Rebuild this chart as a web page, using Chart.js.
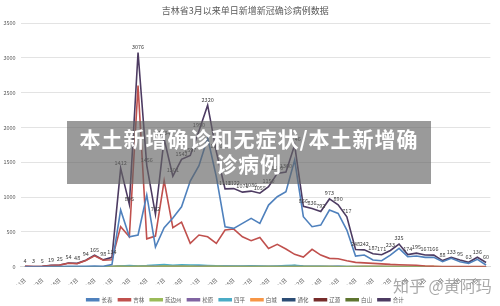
<!DOCTYPE html>
<html><head><meta charset="utf-8">
<script src="https://cdn.jsdelivr.net/npm/chart.js@4"></script>
<style>
html,body{margin:0;padding:0;background:#fff;}
#wrap{position:relative;width:500px;height:306px;overflow:hidden;background:#fff;}
#c{display:block;}
#banner{position:absolute;left:67px;top:121px;width:364px;height:63px;background:rgba(100,100,100,0.65);color:#fff;font:bold 21px "Noto Sans CJK SC";letter-spacing:1px;text-align:center;line-height:25px;padding-top:5px;box-sizing:border-box;white-space:nowrap;}
#wm{position:absolute;left:393px;top:273px;font:16px "Noto Sans CJK SC";color:rgba(140,140,140,0.75);white-space:nowrap;}
</style></head><body>
<div id="wrap"><canvas id="c" width="500" height="306"></canvas>
<div id="banner">本土新增确诊和无症状/本土新增确<br>诊病例</div>
<div id="wm">知乎 @黄阿玛</div></div>
<script>
const titleText = '吉林省3月以来单日新增新冠确诊病例数据';
const categories = [];
for (let d = 1; d <= 31; d++) categories.push('3月' + d + '日');
for (let d = 1; d <= 23; d++) categories.push('4月' + d + '日');
const yTicks = [0, 500, 1000, 1500, 2000, 2500, 3000, 3500];

const changchun = [0,0,0,1,2,5,5,5,10,5,30,815,430,455,1030,283,560,700,861,1230,1450,1850,1290,574,550,622,694,622,885,1005,1077,1531,718,574,598,813,765,526,153,167,96,86,167,263,144,153,134,134,72,120,72,48,105,24];
const jilin = [4,3,5,18,23,49,43,89,155,93,100,575,430,2601,400,440,1234,560,640,335,455,430,335,526,541,430,373,421,263,321,254,177,139,249,167,120,114,86,62,55,48,40,33,29,24,20,10,5,3,2,2,1,1,1];
const yanbian = [0,0,0,0,0,0,0,0,0,0,2,5,3,5,4,3,8,6,5,4,3,5,4,3,2,3,2,2,1,2,1,2,1,1,1,1,0,0,0,0,0,0,0,0,0,0,0,0,0,0,0,0,0,0];
const songyuan = [0,0,0,0,0,0,0,0,0,0,1,2,2,3,5,4,6,5,4,3,4,5,3,2,2,2,3,3,2,2,2,3,2,1,1,1,1,0,0,0,0,0,0,0,0,0,0,0,0,0,0,0,0,0];
const siping = [0,0,0,0,0,0,0,0,0,0,0,10,18,10,15,25,30,20,28,25,22,18,12,10,8,10,12,8,6,10,15,20,8,5,4,3,5,3,2,2,2,3,1,1,1,0,0,0,0,0,0,0,0,0];
const baicheng = [0,0,0,0,0,0,0,0,0,0,0,1,1,2,1,0,2,1,1,0,1,1,0,0,1,0,1,0,0,0,1,0,0,0,0,0,0,0,2,4,6,5,4,6,5,3,2,1,0,0,0,0,0,0];
const tonghua = [0,0,0,0,0,0,0,0,0,0,0,1,1,0,1,0,1,0,0,1,0,1,0,1,0,0,0,0,0,0,0,0,0,0,0,0,0,0,0,0,0,0,0,0,0,0,0,0,0,0,0,0,0,0];
const liaoyuan = [0,0,0,0,0,0,0,0,0,0,0,0,1,0,0,0,1,0,0,0,0,0,0,0,0,0,0,0,0,0,0,0,0,0,0,0,0,0,0,0,0,0,0,0,0,0,0,0,0,0,0,0,0,0];
const baishan = [0,0,0,0,0,0,0,0,0,0,1,4,3,2,1,0,2,4,5,3,5,5,6,3,2,1,2,1,3,2,5,15,3,2,2,2,3,2,1,1,1,1,0,0,0,1,1,1,0,0,0,0,0,0];
const total = [4,3,5,19,25,54,48,94,165,98,134,1412,895,3076,1456,752,1834,1301,1542,1597,1950,2320,1650,1118,1122,1071,1086,1055,1150,1340,1360,1746,866,836,792,973,890,717,248,242,187,171,233,325,174,195,167,166,88,133,95,63,136,60];

const seriesNames = ['长春','吉林','延边州','松原','四平','白城','通化','辽源','白山','合计'];
const seriesData = [changchun, jilin, yanbian, songyuan, siping, baicheng, tonghua, liaoyuan, baishan, total];
const seriesColors = ['#4F81BD','#C0504D','#9BBB59','#8064A2','#4BACC6','#F79646','#2C4D75','#772C2A','#5F7530','#4D3B62'];

Chart.defaults.font.family = '"Noto Sans CJK SC", "Noto Sans", sans-serif';

const datasets = seriesNames.map((n, i) => ({
  label: n,
  data: seriesData[i],
  borderColor: seriesColors[i],
  backgroundColor: seriesColors[i],
  borderWidth: 1.6,
  pointRadius: 0,
  tension: 0,
  fill: false
}));

const totalLabels = {
  id: 'totalLabels',
  afterDatasetsDraw(chart) {
    const meta = chart.getDatasetMeta(chart.data.datasets.length - 1);
    const ctx = chart.ctx;
    ctx.save();
    ctx.font = '5.5px "Noto Sans CJK SC"';
    ctx.fillStyle = '#404040';
    ctx.textAlign = 'center';
    ctx.textBaseline = 'bottom';
    meta.data.forEach((pt, i) => ctx.fillText(String(total[i]), pt.x, pt.y - 3));
    ctx.restore();
  }
};
const shiftLegend = {
  id: 'shiftLegend',
  afterLayout(chart) { const l = chart.legend; l.top += 6.5; l.bottom += 6.5; }
};

new Chart(document.getElementById('c'), {
  type: 'line',
  data: { labels: categories, datasets },
  plugins: [totalLabels, shiftLegend],
  options: {
    responsive: false, animation: false, devicePixelRatio: 1,
    layout: { padding: { left: 0, right: 9.6, top: 0, bottom: 0 } },
    plugins: {
      title: { display: true, text: titleText, color: '#595959', font: { size: 9, weight: 'normal' }, padding: { top: 5.6, bottom: 6.6 } },
      legend: { position: 'bottom', labels: { boxWidth: 12, boxHeight: 2, padding: 6, color: '#595959', font: { size: 5.5 } } },
      tooltip: { enabled: false }
    },
    scales: {
      x: {
        offset: true,
        grid: { display: false },
        border: { color: '#d9d9d9' },
        ticks: { autoSkip: false, minRotation: 45, maxRotation: 45, color: '#595959', font: { size: 5.5 }, padding: 2,
          callback: function(v, i) { return i % 2 === 0 ? categories[i] : ''; } },
        afterFit(s) { s.height = 17.8; }
      },
      y: {
        min: 0, max: 3500,
        grid: { color: '#d9d9d9', lineWidth: 0.75, drawTicks: false },
        border: { display: false },
        ticks: { stepSize: 500, color: '#595959', font: { size: 5.5 }, padding: 5,
          callback: function(v) { return yTicks.includes(v) ? String(v) : ''; } },
        afterFit(s) { s.width = 20.6; }
      }
    }
  }
});
</script>
</body></html>
